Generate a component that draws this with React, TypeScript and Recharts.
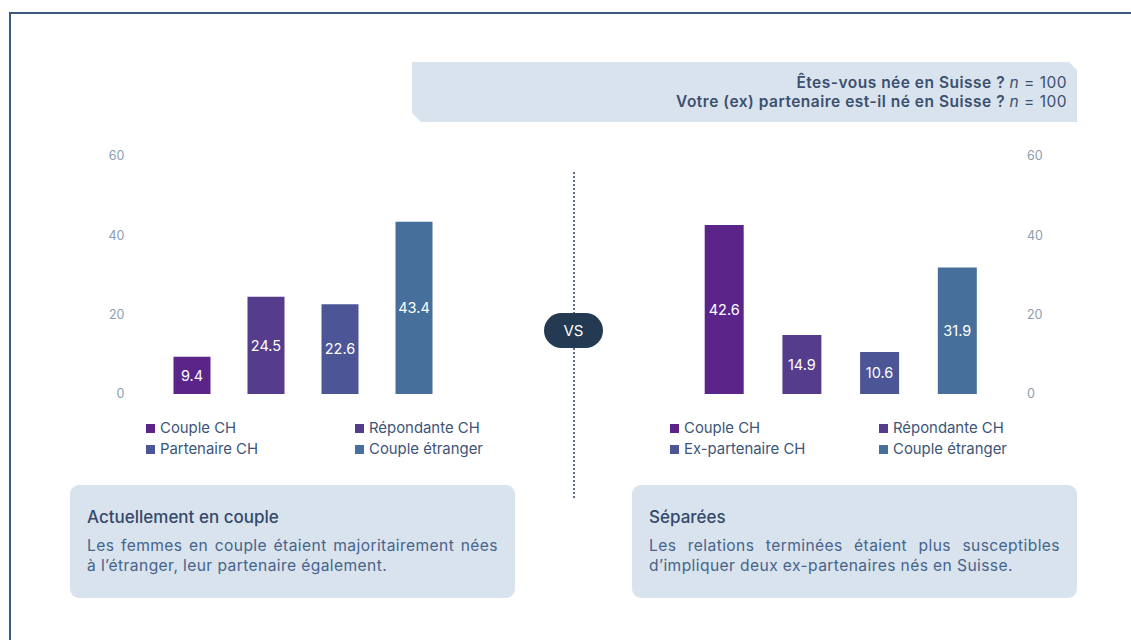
import React from "react";
import { BarChart, Bar, XAxis, YAxis, Cell, LabelList } from "recharts";

const leftCategories = ["Couple CH", "Répondante CH", "Partenaire CH", "Couple étranger"];
const leftValues = [9.4, 24.5, 22.6, 43.4];
const rightCategories = ["Couple CH", "Répondante CH", "Ex-partenaire CH", "Couple étranger"];
const rightValues = [42.6, 14.9, 10.6, 31.9];
const barColors = ["#5b2489", "#553c8c", "#4c5596", "#466f9b"];
const yTicks = [0, 20, 40, 60];

const headerLine1 = "Êtes-vous née en Suisse ?";
const headerLine2 = "Votre (ex) partenaire est-il né en Suisse ?";
const nValue = 100;

const leftTitle = "Actuellement en couple";
const leftLines = ["Les femmes en couple étaient majoritairement nées", "à l’étranger, leur partenaire également."];
const rightTitle = "Séparées";
const rightLines = ["Les relations terminées étaient plus susceptibles", "d’impliquer deux ex-partenaires nés en Suisse."];

const FONT = "Inter, 'Noto Sans', sans-serif";

const leftData = leftCategories.map((name, i) => ({ name, value: leftValues[i] }));
const rightData = rightCategories.map((name, i) => ({ name, value: rightValues[i] }));

function Legend({ items, left, col2 }: { items: string[]; left: number; col2: number }) {
  const pos = [
    { x: left, y: 428 },
    { x: col2, y: 428 },
    { x: left, y: 449 },
    { x: col2, y: 449 },
  ];
  return (
    <>
      {items.map((label, i) => (
        <div
          key={label}
          style={{
            position: "absolute",
            left: pos[i].x,
            top: pos[i].y - 10,
            height: 20,
            display: "flex",
            alignItems: "center",
            fontFamily: FONT,
            fontSize: 14.9,
            color: "#3d5578",
            whiteSpace: "nowrap",
          }}
        >
          <span style={{ width: 9, height: 9, background: barColors[i], marginRight: 5, display: "inline-block" }} />
          {label}
        </div>
      ))}
    </>
  );
}

function TextBox({ left, title, lines }: { left: number; title: string; lines: string[] }) {
  return (
    <div
      style={{
        position: "absolute",
        left,
        top: 485,
        width: 445,
        height: 113,
        background: "#d9e3ed",
        borderRadius: 9,
        boxSizing: "border-box",
        padding: "18px 17px 0 17px",
        fontFamily: FONT,
      }}
    >
      <div style={{ fontSize: 17, fontWeight: 500, color: "#34496a", lineHeight: "28px" }}>{title}</div>
      <div style={{ marginTop: 4.5, fontSize: 15.6, letterSpacing: 0.4, color: "#46648c", lineHeight: "20px" }}>
        {lines.map((ln, i) => (
          <div
            key={i}
            style={{
              textAlign: i < lines.length - 1 ? "justify" : "left",
              textAlignLast: i < lines.length - 1 ? "justify" : "left",
              whiteSpace: "nowrap",
            }}
          >
            {ln}
          </div>
        ))}
      </div>
    </div>
  );
}

export default function App() {
  return (
    <div
      style={{
        position: "absolute",
        left: 0,
        top: 0,
        width: 1131,
        height: 640,
        overflow: "hidden",
        background: "#ffffff",
        fontFamily: FONT,
      }}
    >
      <div
        style={{
          position: "absolute",
          left: 9,
          top: 12,
          width: 1300,
          height: 800,
          borderTop: "2px solid #3c5a7e",
          borderLeft: "2px solid #3c5a7e",
        }}
      />
      {/* header box */}
      <div
        style={{
          position: "absolute",
          left: 412,
          top: 62,
          width: 665,
          height: 60,
          background: "#d9e3ed",
          clipPath: "polygon(0 0, 657px 0, 665px 8px, 665px 60px, 9px 60px, 0 51px)",
        }}
      />
      <div
        style={{
          position: "absolute",
          right: 1131 - 1067,
          top: 73,
          textAlign: "right",
          fontFamily: FONT,
          fontSize: 15.5,
          letterSpacing: 0.5,
          fontWeight: 600,
          color: "#3b4f6e",
          lineHeight: "19px",
          whiteSpace: "nowrap",
        }}
      >
        <div>
          {headerLine1} <i style={{ fontWeight: 400 }}>n</i>
          <span style={{ fontWeight: 400 }}> = {nValue}</span>
        </div>
        <div>
          {headerLine2} <i style={{ fontWeight: 400 }}>n</i>
          <span style={{ fontWeight: 400 }}> = {nValue}</span>
        </div>
      </div>

      {/* left chart */}
      <div style={{ position: "absolute", left: 0, top: 140 }}>
        <BarChart
          width={560}
          height={280}
          data={leftData}
          margin={{ top: 16, right: 109.5, bottom: 26, left: 94.5 }}
        >
          <XAxis dataKey="name" hide />
          <YAxis
            domain={[0, 60]}
            ticks={yTicks}
            width={60}
            axisLine={false}
            tickLine={false}
            tickSize={0}
            tickMargin={30}
            tick={{ fill: "#8d9cb0", fontSize: 12.5, fontFamily: FONT }}
          />
          <Bar dataKey="value" barSize={37} isAnimationActive={false}>
            {leftData.map((d, i) => (
              <Cell key={d.name} fill={barColors[i]} />
            ))}
            <LabelList dataKey="value" position="center" fill="#ffffff" fontSize={14.5} fontFamily={FONT} />
          </Bar>
        </BarChart>
      </div>

      {/* right chart */}
      <div style={{ position: "absolute", left: 570, top: 140 }}>
        <BarChart
          width={561}
          height={280}
          data={rightData}
          margin={{ top: 16, right: 74.5, bottom: 26, left: 115.7 }}
        >
          <XAxis dataKey="name" hide />
          <YAxis
            orientation="right"
            domain={[0, 60]}
            ticks={yTicks}
            width={60}
            axisLine={false}
            tickLine={false}
            tickSize={0}
            tickMargin={30.5}
            tick={{ fill: "#8d9cb0", fontSize: 12.5, fontFamily: FONT }}
          />
          <Bar dataKey="value" barSize={39} isAnimationActive={false}>
            {rightData.map((d, i) => (
              <Cell key={d.name} fill={barColors[i]} />
            ))}
            <LabelList dataKey="value" position="center" fill="#ffffff" fontSize={14.5} fontFamily={FONT} />
          </Bar>
        </BarChart>
      </div>

      <Legend items={leftCategories} left={146} col2={355} />
      <Legend items={rightCategories} left={670} col2={879} />

      {/* divider + VS */}
      <div
        style={{
          position: "absolute",
          left: 573,
          top: 172,
          height: 328,
          width: 1.5,
          backgroundImage: "repeating-linear-gradient(to bottom, #5f7088 0px, #5f7088 2px, transparent 2px, transparent 4px)",
        }}
      />
      <div
        style={{
          position: "absolute",
          left: 544,
          top: 313,
          width: 59,
          height: 35,
          borderRadius: 18,
          background: "#243a52",
          color: "#ffffff",
          display: "flex",
          alignItems: "center",
          justifyContent: "center",
          fontFamily: FONT,
          fontSize: 15,
        }}
      >
        VS
      </div>

      <TextBox left={70} title={leftTitle} lines={leftLines} />
      <TextBox left={632} title={rightTitle} lines={rightLines} />
    </div>
  );
}
